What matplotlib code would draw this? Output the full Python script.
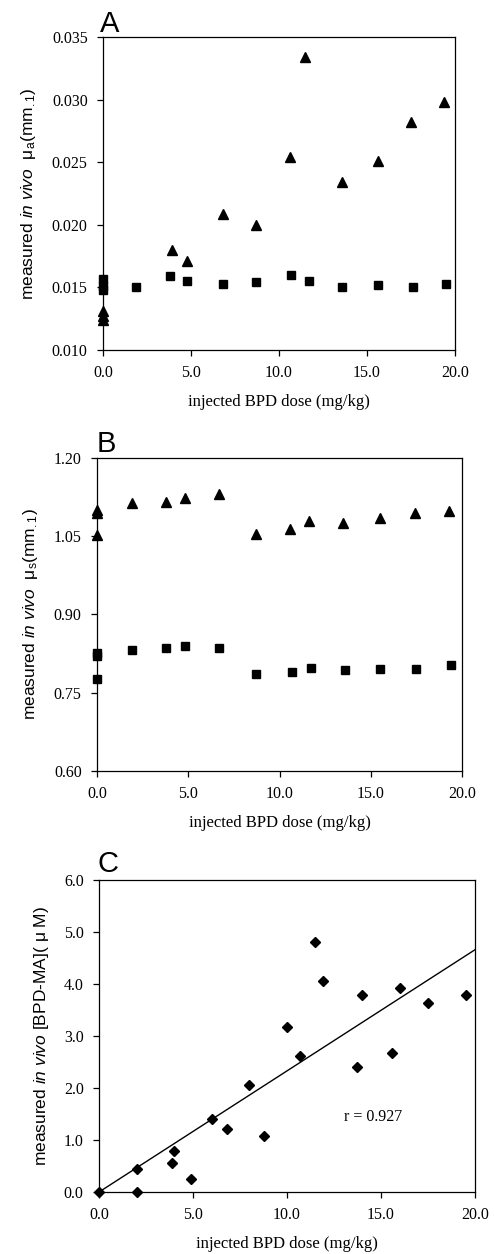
import numpy as np
import matplotlib
matplotlib.use("Agg")
import matplotlib.pyplot as plt

plt.rcParams['mathtext.fontset'] = 'custom'
plt.rcParams['mathtext.rm'] = 'Liberation Sans'
plt.rcParams['mathtext.it'] = 'Liberation Sans:italic'

# Panel A: absorption coefficient mu_a
dose_a_tri = [0, 0, 0, 3.9, 4.8, 6.8, 8.7, 10.6, 11.5, 13.6, 15.6, 17.5, 19.4]
mua_tri = [0.0131, 0.0127, 0.0124, 0.0180, 0.0171, 0.0209, 0.0200, 0.0254,
           0.0334, 0.0234, 0.0251, 0.0282, 0.0298]
dose_a_sq = [0, 0, 0, 1.9, 3.8, 4.8, 6.8, 8.7, 10.7, 11.7, 13.6, 15.6, 17.6, 19.5]
mua_sq = [0.0157, 0.0151, 0.0148, 0.0150, 0.0159, 0.0155, 0.0153, 0.0154,
          0.0160, 0.0155, 0.0150, 0.0152, 0.0150, 0.0153]

# Panel B: scattering coefficient mu_s
dose_b_tri = [0, 0, 0, 1.9, 3.8, 4.8, 6.7, 8.7, 10.6, 11.6, 13.5, 15.5, 17.4, 19.3]
mus_tri = [1.101, 1.094, 1.052, 1.113, 1.116, 1.123, 1.131, 1.054, 1.064,
           1.080, 1.075, 1.085, 1.094, 1.098]
dose_b_sq = [0, 0, 0, 1.9, 3.8, 4.8, 6.7, 8.7, 10.7, 11.7, 13.6, 15.5, 17.5, 19.4]
mus_sq = [0.826, 0.820, 0.776, 0.831, 0.836, 0.839, 0.836, 0.785, 0.790,
          0.798, 0.793, 0.796, 0.795, 0.804]

# Panel C: BPD-MA concentration
dose_c = [0, 2.0, 2.0, 3.9, 4.0, 4.9, 6.0, 6.8, 8.0, 8.8, 10.0, 10.7, 11.5,
          11.9, 13.7, 14.0, 15.6, 16.0, 17.5, 19.5]
conc_c = [0.0, 0.45, 0.0, 0.55, 0.78, 0.25, 1.40, 1.22, 2.06, 1.07, 3.17,
          2.62, 4.80, 4.05, 2.40, 3.78, 2.68, 3.92, 3.64, 3.78]
fit_slope = 0.233
fit_intercept = 0.0
r_value = 0.927

xticks = [0, 5, 10, 15, 20]
xlabel = "injected BPD dose (mg/kg)"
serif = 'Liberation Serif'

fig = plt.figure(figsize=(4.94, 12.54), dpi=100)
axA = fig.add_axes([0.2085, 0.7209, 0.7126, 0.2496])
axB = fig.add_axes([0.1964, 0.3852, 0.7389, 0.2496])
axC = fig.add_axes([0.2004, 0.0494, 0.7611, 0.2488])


def style(ax, yticks, yfmt):
    ax.set_xlim(0, 20)
    ax.set_xticks(xticks)
    ax.set_xticklabels(["%.1f" % t for t in xticks], fontfamily=serif, fontsize=11.5)
    ax.set_ylim(yticks[0], yticks[-1])
    ax.set_yticks(yticks)
    ax.set_yticklabels([yfmt % t for t in yticks], fontfamily=serif, fontsize=11.5)
    ax.tick_params(direction='out', length=4, width=0.9, pad=7)
    for s in ax.spines.values():
        s.set_linewidth(0.9)
    ax.set_xlabel(xlabel, fontfamily=serif, fontsize=12, labelpad=9)


# A
axA.plot(dose_a_tri, mua_tri, '^', color='black', ms=7.5, clip_on=False)
axA.plot(dose_a_sq, mua_sq, 's', color='black', ms=6, clip_on=False)
style(axA, [0.010, 0.015, 0.020, 0.025, 0.030, 0.035], "%.3f")
axA.set_ylabel(r"measured $\mathit{in\ vivo}$  μ$_\mathrm{a}$(mm$_\mathrm{.1}$)",
               fontfamily='Liberation Sans', fontsize=12.5, labelpad=10)
fig.text(0.203, 0.9745, "A", fontfamily='Liberation Sans', fontsize=21, va='baseline')

# B
axB.plot(dose_b_tri, mus_tri, '^', color='black', ms=7.5, clip_on=False)
axB.plot(dose_b_sq, mus_sq, 's', color='black', ms=6, clip_on=False)
style(axB, [0.60, 0.75, 0.90, 1.05, 1.20], "%.2f")
axB.set_ylabel(r"measured $\mathit{in\ vivo}$  μ$_\mathrm{s}$(mm$_\mathrm{.1}$)",
               fontfamily='Liberation Sans', fontsize=12.5, labelpad=10)
fig.text(0.195, 0.6395, "B", fontfamily='Liberation Sans', fontsize=21, va='baseline')

# C
axC.plot(dose_c, conc_c, 'D', color='black', ms=5.5, clip_on=False)
fit_x = np.array([0, 20])
axC.plot(fit_x, fit_slope * fit_x + fit_intercept, '-', color='black', lw=1.0)
style(axC, [0.0, 1.0, 2.0, 3.0, 4.0, 5.0, 6.0], "%.1f")
axC.set_ylabel(r"measured $\mathit{in\ vivo}$ [BPD-MA]( μ M)",
               fontfamily='Liberation Sans', fontsize=12.5, labelpad=9)
axC.text(14.6, 1.45, "r = %.3f" % r_value, fontfamily=serif, fontsize=11.5,
         ha='center', va='center')
fig.text(0.197, 0.3045, "C", fontfamily='Liberation Sans', fontsize=21, va='baseline')

fig.savefig("out.png", dpi=100)
